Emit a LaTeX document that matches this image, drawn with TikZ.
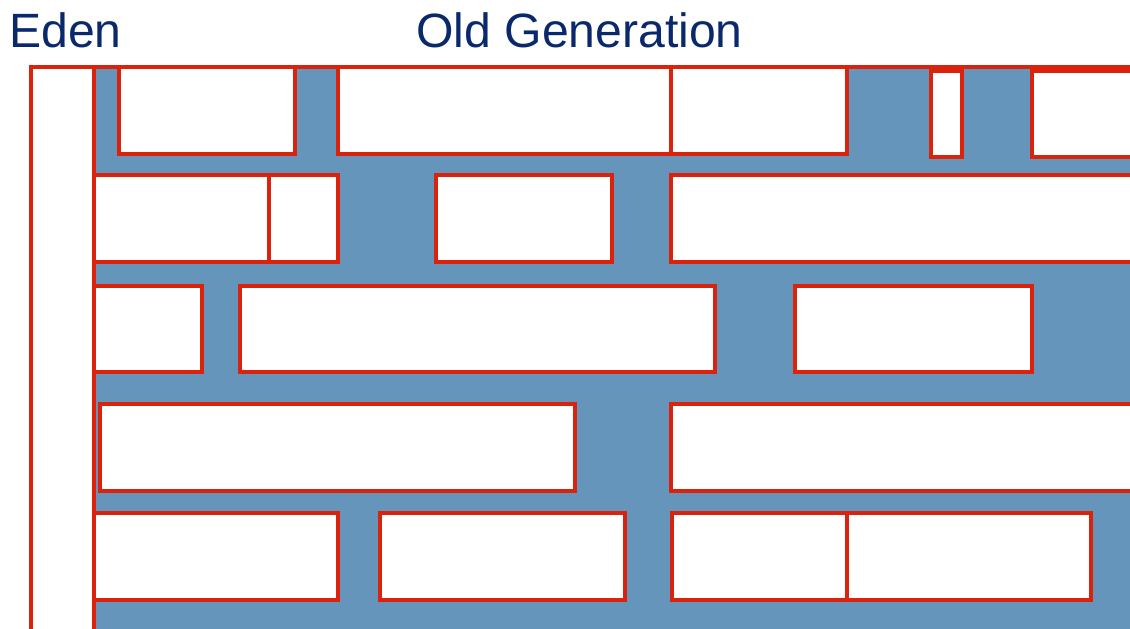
\documentclass[tikz,border=0pt]{standalone}
\usepackage{fontspec}
\setmainfont{Liberation Sans}
\usepackage{xcolor}
\definecolor{heapblue}{RGB}{101,149,186}
\definecolor{objred}{RGB}{218,34,12}
\definecolor{labelnavy}{RGB}{10,40,108}

\begin{document}
\begin{tikzpicture}[
    x=0.02cm, y=-0.02cm,
    objbox/.style={draw=objred, line width=2.2pt, fill=white},
    genlabel/.style={anchor=base west, inner sep=0pt, text=labelnavy, font=\fontsize{27.4}{30}\selectfont}
]
\useasboundingbox (0,0) rectangle (1130,629);
\clip (0,0) rectangle (1130,629);

% Labels
\node[genlabel] (eden) at (9,47) {Eden};
\node[genlabel] (oldgen) at (416,47) {Old Generation};

% Old generation space
\fill[heapblue] (94,67) rectangle (1140,640);
\draw[objred, line width=2.2pt] (31,67) -- (1140,67);

% Eden column
\draw[objbox] (31,67) rectangle (94,650);

% Row 1
\draw[objbox] (119,67) rectangle (295,154);
\draw[objbox] (338,67) rectangle (671,154);
\draw[objbox] (671,67) rectangle (847,154);
\draw[objbox] (931,71) rectangle (962,157);
\draw[objbox] (1032,71) rectangle (1145,157);

% Row 2
\draw[objbox] (94,175) rectangle (269,262);
\draw[objbox] (269,175) rectangle (338,262);
\draw[objbox] (436,175) rectangle (612,262);
\draw[objbox] (671,175) rectangle (1145,262);

% Row 3
\draw[objbox] (94,286) rectangle (202,372);
\draw[objbox] (240,286) rectangle (715,372);
\draw[objbox] (795,286) rectangle (1032,372);

% Row 4
\draw[objbox] (100,404) rectangle (575,491);
\draw[objbox] (671,404) rectangle (1145,491);

% Row 5
\draw[objbox] (94,513) rectangle (338,600);
\draw[objbox] (380,513) rectangle (625,600);
\draw[objbox] (672,513) rectangle (847,600);
\draw[objbox] (847,513) rectangle (1091,600);

% Eden edge on top of the boxes
\draw[objred, line width=2.2pt] (94,67) -- (94,650);

\end{tikzpicture}
\end{document}
